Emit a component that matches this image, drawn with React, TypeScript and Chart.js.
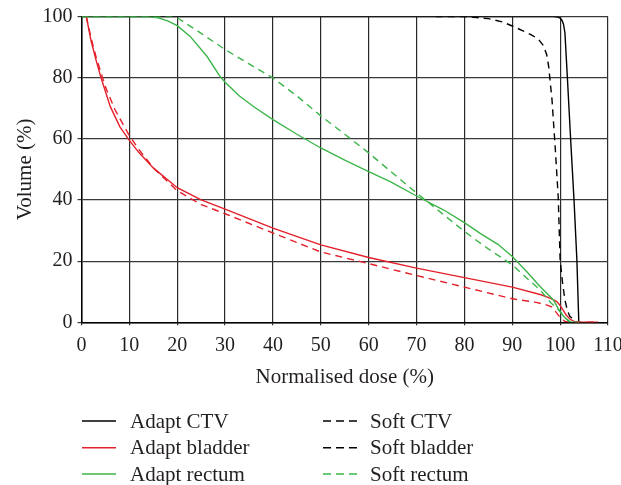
import React, { useEffect, useRef } from "react";
import { Chart, registerables } from "chart.js";

Chart.register(...registerables);

// ---- Data ----
const adaptCtvX = [0, 98.5, 99.5, 100, 100.4, 100.7, 101, 101.5, 102.2, 102.9, 103.5, 103.9];
const adaptCtvY = [100, 100, 99.8, 99.5, 98.7, 97.5, 94.7, 80.4, 59.7, 40, 20.4, 0];

const softCtvX = [74, 80, 85, 88, 90, 92, 94, 95.5, 96.5, 97.2, 97.6, 98.3, 99, 99.6, 100, 100.5, 101, 101.5, 102, 103.5];
const softCtvY = [100, 100, 99.3, 98.2, 96.9, 95.5, 94, 92.5, 90.5, 87.5, 83.7, 72.8, 56.4, 41, 20.4, 13, 7.3, 4, 2, 0];

const adaptBladderX = [1, 2, 3, 4, 6, 8, 10, 12, 15, 20, 25, 30, 40, 50, 60, 70, 80, 90, 96, 98, 99.3, 100, 100.7, 101.3, 102.1, 103, 104, 108];
const adaptBladderY = [100, 92, 86, 80.4, 70.6, 64, 59.5, 55.5, 50.5, 44, 40, 37, 30.8, 25.3, 21.2, 17.7, 14.6, 11.5, 9, 7.8, 6.8, 5.5, 3.8, 2.3, 1, 0.2, 0, 0];

const softBladderX = [1, 2, 3, 5, 7, 10, 12, 15, 20, 25, 30, 40, 50, 60, 70, 80, 90, 95, 97, 98.3, 99.3, 100.2, 101, 102, 108];
const softBladderY = [100, 93, 87, 77, 69.5, 61, 56.5, 50.5, 43, 38.5, 35.5, 29.2, 23, 19.2, 15.3, 11.5, 7.7, 6.5, 5.8, 5, 3, 1.2, 0.3, 0, 0];

const adaptRectumX = [0, 14, 16, 18, 20, 22.7, 26.2, 28.9, 30, 33, 36, 40, 45, 50, 55, 60, 64.5, 70, 75.6, 80, 83.3, 87, 90, 93, 95.8, 98.6, 99.6, 100.7, 102, 104];
const adaptRectumY = [100, 100, 99.6, 98.6, 97, 93.5, 87, 80.5, 78.5, 74, 70.5, 66.3, 61.5, 57, 53, 49.3, 46, 41.3, 36.8, 32.6, 29.1, 25.5, 21.5, 16.6, 11.7, 7.3, 4.5, 2, 0.1, 0];

const softRectumX = [0, 19, 20, 25, 30, 35, 40, 45, 50, 55, 60, 65, 70, 73.5, 80, 85, 90, 93, 95.8, 98, 99.6, 100.2, 101, 102, 103];
const softRectumY = [100, 100, 99.6, 94.5, 89.2, 84.5, 79.9, 74, 67.5, 61.5, 55.4, 48.8, 42.3, 37.9, 29.7, 24, 18.8, 14.5, 10.6, 6.5, 4.2, 3, 1.5, 0.3, 0];

const seriesLabels = ["Adapt CTV", "Adapt bladder", "Adapt rectum", "Soft CTV", "Soft bladder", "Soft rectum"];
const xAxisTitle = "Normalised dose (%)";
const yAxisTitle = "Volume (%)";
const xMin = 0, xMax = 110, xStep = 10;
const yMin = 0, yMax = 100, yStep = 20;

const BLACK = "#000000";
const RED = "#e3202b";
const GREEN = "#3db54a";
const TEXT = "#231f20";
const FONT = "'Liberation Serif', 'DejaVu Serif', serif";

const pts = (xs: number[], ys: number[]) => xs.map((x, i) => ({ x, y: ys[i] }));

const legendPlugin = {
  id: "customLegend",
  afterDraw(chart: any) {
    const ctx = chart.ctx;
    const items = [
      { text: seriesLabels[0], color: BLACK, dash: [] as number[], col: 0, row: 0 },
      { text: seriesLabels[1], color: RED, dash: [], col: 0, row: 1 },
      { text: seriesLabels[2], color: GREEN, dash: [], col: 0, row: 2 },
      { text: seriesLabels[3], color: BLACK, dash: [8, 5], col: 1, row: 0 },
      { text: seriesLabels[4], color: BLACK, dash: [8, 5], col: 1, row: 1 },
      { text: seriesLabels[5], color: GREEN, dash: [8, 5], col: 1, row: 2 },
    ];
    const cols = [
      { x0: 82, x1: 116, tx: 130 },
      { x0: 323, x1: 357, tx: 370 },
    ];
    const rowY = [421, 447.7, 474];
    ctx.save();
    ctx.font = `21px ${FONT}`;
    ctx.textBaseline = "middle";
    ctx.textAlign = "left";
    for (const it of items) {
      const c = cols[it.col];
      const y = rowY[it.row];
      ctx.beginPath();
      ctx.setLineDash(it.dash);
      ctx.strokeStyle = it.color;
      ctx.lineWidth = 1.4;
      ctx.moveTo(c.x0, y);
      ctx.lineTo(c.x1, y);
      ctx.stroke();
      ctx.setLineDash([]);
      ctx.fillStyle = TEXT;
      ctx.fillText(it.text, c.tx, y + 1);
    }
    ctx.restore();
  },
};

export default function App() {
  const ref = useRef<HTMLCanvasElement | null>(null);
  useEffect(() => {
    if (!ref.current) return;
    const mk = (label: string, data: any, color: string, dashed: boolean) => ({
      label,
      data,
      borderColor: color,
      backgroundColor: color,
      borderWidth: 1.4,
      borderDash: dashed ? [7, 5] : [],
      pointRadius: 0,
      tension: 0,
      fill: false,
    });
    const chart = new Chart(ref.current, {
      type: "line",
      data: {
        datasets: [
          mk(seriesLabels[5], pts(softRectumX, softRectumY), GREEN, true),
          mk(seriesLabels[2], pts(adaptRectumX, adaptRectumY), GREEN, false),
          mk(seriesLabels[4], pts(softBladderX, softBladderY), RED, true),
          mk(seriesLabels[1], pts(adaptBladderX, adaptBladderY), RED, false),
          mk(seriesLabels[3], pts(softCtvX, softCtvY), BLACK, true),
          mk(seriesLabels[0], pts(adaptCtvX, adaptCtvY), BLACK, false),
        ],
      },
      options: {
        responsive: false,
        animation: false,
        parsing: false as any,
        layout: { padding: { top: 16.5, right: 13, bottom: 95.2, left: 0 } },
        plugins: { legend: { display: false }, tooltip: { enabled: false } },
        scales: {
          x: {
            type: "linear",
            min: xMin,
            max: xMax,
            ticks: { stepSize: xStep, color: TEXT, font: { family: FONT, size: 20 }, padding: 8, maxRotation: 0 },
            grid: { color: "#2a2a2a", lineWidth: 1.2, tickLength: 3 },
            border: { color: "#000", width: 1.5 },
            title: { display: true, text: xAxisTitle, color: TEXT, font: { family: FONT, size: 21 }, padding: 0 },
            afterFit: (s: any) => {
              s.height = 67.5;
              s.paddingLeft = 0;
              s.paddingRight = 0;
            },
          },
          y: {
            type: "linear",
            min: yMin,
            max: yMax,
            ticks: { stepSize: yStep, color: TEXT, font: { family: FONT, size: 20 }, padding: 5 },
            grid: { color: "#3a3a3a", lineWidth: 1.2, tickLength: 4 },
            border: { color: "#000", width: 1.5 },
            title: { display: true, text: yAxisTitle, color: TEXT, font: { family: FONT, size: 21 }, padding: { top: 12.5, bottom: 0 } },
            afterFit: (s: any) => {
              s.width = 81.5;
              s.paddingTop = 0;
              s.paddingBottom = 0;
            },
          },
        },
      },
      plugins: [legendPlugin],
    });
    return () => chart.destroy();
  }, []);
  return (
    <div style={{ position: "absolute", left: 0, top: 0, width: 621, height: 485, background: "#fff" }}>
      <canvas ref={ref} width={621} height={485} style={{ width: 621, height: 485, display: "block" }} />
    </div>
  );
}
